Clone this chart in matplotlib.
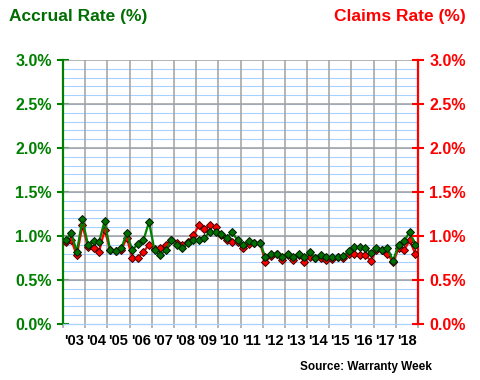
import numpy as np
import matplotlib
matplotlib.use("Agg")
import matplotlib.pyplot as plt
from matplotlib.ticker import MultipleLocator, FixedLocator, NullFormatter

plt.rcParams['font.family'] = ['Liberation Sans', 'DejaVu Sans']

# quarterly rates, Q1 2003 .. Q4 2018 (percent)
accrual = [0.95, 1.03, 0.82, 1.19,
           0.90, 0.94, 0.93, 1.17,
           0.84, 0.83, 0.86, 1.03,
           0.84, 0.91, 0.95, 1.16,
           0.84, 0.78, 0.84, 0.95,
           0.90, 0.86, 0.92, 0.95,
           0.95, 0.98, 1.05, 1.04,
           1.02, 0.98, 1.04, 0.95,
           0.90, 0.94, 0.92, 0.92,
           0.76, 0.80, 0.80, 0.76,
           0.80, 0.76, 0.80, 0.76,
           0.82, 0.75, 0.78, 0.76,
           0.76, 0.76, 0.77, 0.83,
           0.87, 0.87, 0.86, 0.81,
           0.86, 0.84, 0.86, 0.72,
           0.90, 0.94, 1.05, 0.90]
claims = [0.93, 0.95, 0.78, 1.12,
          0.88, 0.86, 0.82, 1.07,
          0.84, 0.83, 0.84, 0.98,
          0.75, 0.75, 0.82, 0.90,
          0.85, 0.86, 0.90, 0.95,
          0.92, 0.90, 0.93, 1.01,
          1.12, 1.08, 1.12, 1.10,
          1.01, 0.95, 0.93, 0.93,
          0.86, 0.91, 0.92, 0.92,
          0.71, 0.77, 0.79, 0.73,
          0.78, 0.73, 0.78, 0.71,
          0.76, 0.75, 0.75, 0.73,
          0.74, 0.76, 0.75, 0.80,
          0.80, 0.78, 0.78, 0.72,
          0.84, 0.84, 0.80, 0.70,
          0.86, 0.84, 0.95, 0.80]
years = list(range(2003, 2019))
year_labels = ["'" + str(y)[2:] for y in years]
y_ticks = [0.0, 0.5, 1.0, 1.5, 2.0, 2.5, 3.0]

x = 2003 + (np.arange(len(accrual)) + 0.5) / 4

GREEN = '#008000'
RED = '#FF0000'
GREY = '#A0A0A0'
BLUE = '#A6D2FF'

fig = plt.figure(figsize=(4.8, 3.8), dpi=100)
ax = fig.add_axes([0.13125, 0.1474, 0.7396, 0.6947])
ax.set_axisbelow(True)

# grid: light blue every 0.1, grey every 0.5 and at year boundaries
ax.hlines(np.arange(1, 30) / 10, 2003, 2019, color=BLUE, lw=0.8, zorder=0.6)
ax.hlines(y_ticks[1:], 2003, 2019, color=GREY, lw=1.1, zorder=0.7)
ax.vlines(years[1:], 0, 3.0, color=GREY, lw=1.1, zorder=0.7)

ax.plot(x, claims, color=RED, lw=1.6, marker='D', ms=3.9,
        mfc=RED, mec='#400000', mew=0.7, zorder=3)
ax.plot(x, accrual, color=GREEN, lw=1.6, marker='D', ms=3.9,
        mfc='#007000', mec='#001800', mew=0.7, zorder=4)

ax.set_xlim(2003, 2019)
ax.set_ylim(0, 3.0)

ax.yaxis.set_major_locator(FixedLocator(y_ticks))

# x ticks at year boundaries, labels centred in each year
ax.xaxis.set_major_locator(FixedLocator(years + [2019]))
ax.xaxis.set_major_formatter(NullFormatter())
ax.xaxis.set_minor_locator(FixedLocator([y + 0.5 for y in years]))
ax.set_xticklabels(year_labels, minor=True)
ax.tick_params(axis='x', which='major', length=3, width=1.1, color=GREY)
ax.tick_params(axis='x', which='minor', length=0, pad=7,
               labelsize=10.5)
for t in ax.get_xticklabels(minor=True):
    t.set_fontweight('bold')

ax.set_yticklabels([f"{v:.1f}%" for v in y_ticks])
ax.tick_params(axis='y', which='major', direction='inout', length=8,
               width=1.5, color=GREEN, labelcolor=GREEN, labelsize=11.5, pad=4)
for t in ax.get_yticklabels():
    t.set_fontweight('bold')

ax.spines['left'].set_color(GREEN)
ax.spines['left'].set_linewidth(1.6)
ax.spines['right'].set_color(RED)
ax.spines['right'].set_linewidth(1.6)
ax.spines['top'].set_visible(False)
ax.spines['bottom'].set_color(BLUE)
ax.spines['bottom'].set_linewidth(0.9)

ax2 = ax.twinx()
ax2.set_ylim(0, 3.0)
ax2.yaxis.set_major_locator(FixedLocator(y_ticks))
ax2.set_yticklabels([f"{v:.1f}%" for v in y_ticks])
ax2.tick_params(axis='y', direction='inout', length=8, width=1.5,
                color=RED, labelcolor=RED, labelsize=11.5, pad=4)
for t in ax2.get_yticklabels():
    t.set_fontweight('bold')
for s in ax2.spines.values():
    s.set_visible(False)

fig.text(9 / 480, 1 - 17 / 380, "Accrual Rate (%)", color='#006E00',
         fontsize=12.5, fontweight='bold', ha='left', va='center')
fig.text(466 / 480, 1 - 17 / 380, "Claims Rate (%)", color=RED,
         fontsize=12.5, fontweight='bold', ha='right', va='center')
fig.text(432 / 480, 1 - 367 / 380, "Source: Warranty Week", color='black',
         fontsize=8.5, fontweight='bold', ha='right', va='center')

fig.savefig("out.png", dpi=100)
